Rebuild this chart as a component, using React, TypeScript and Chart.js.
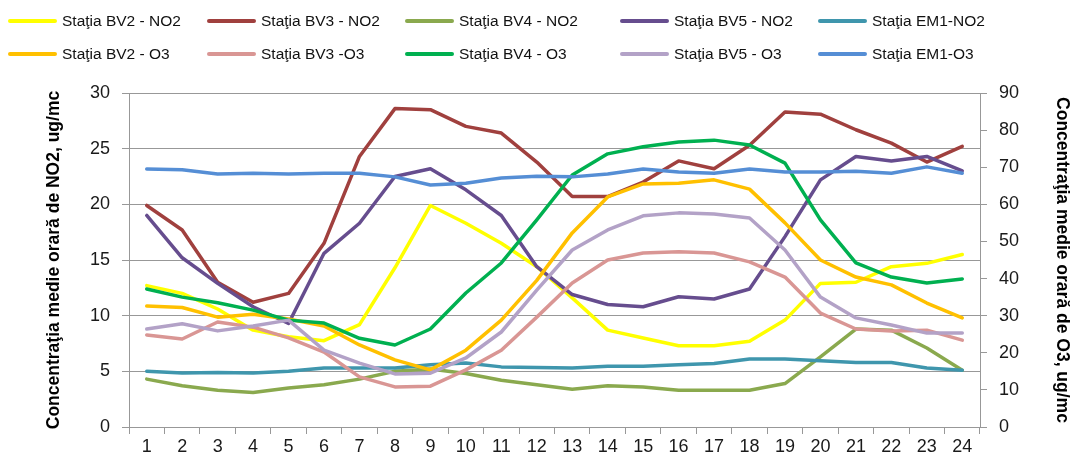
import React, { useEffect, useRef } from "react";
import { Chart, registerables } from "chart.js";

Chart.register(...registerables);

const hours = ["1","2","3","4","5","6","7","8","9","10","11","12","13","14","15","16","17","18","19","20","21","22","23","24"];

const bv2NO2 = [12.7, 12.0, 10.6, 8.7, 8.1, 7.75, 9.2, 14.3, 19.9, 18.3, 16.5, 14.4, 11.6, 8.7, 8.0, 7.3, 7.3, 7.7, 9.6, 12.9, 13.0, 14.4, 14.7, 15.5];
const bv3NO2 = [19.9, 17.7, 13.0, 11.2, 12.0, 16.5, 24.3, 28.6, 28.5, 27.0, 26.4, 23.8, 20.7, 20.7, 22.0, 23.9, 23.2, 25.3, 28.3, 28.1, 26.7, 25.5, 23.8, 25.2];
const bv4NO2 = [4.3, 3.7, 3.3, 3.1, 3.5, 3.8, 4.3, 5.0, 5.2, 4.8, 4.2, 3.8, 3.4, 3.7, 3.6, 3.3, 3.3, 3.3, 3.9, 6.3, 8.8, 8.7, 7.1, 5.1];
const bv5NO2 = [19.0, 15.2, 12.9, 10.8, 9.3, 15.6, 18.3, 22.5, 23.2, 21.3, 19.0, 14.4, 11.9, 11.0, 10.8, 11.7, 11.5, 12.4, 17.1, 22.2, 24.3, 23.9, 24.3, 23.0];
const em1NO2 = [5.0, 4.85, 4.9, 4.85, 5.0, 5.3, 5.3, 5.3, 5.6, 5.75, 5.4, 5.35, 5.3, 5.45, 5.45, 5.6, 5.7, 6.1, 6.1, 5.95, 5.8, 5.8, 5.3, 5.1];

const bv2O3 = [32.6, 32.2, 29.6, 30.4, 29.1, 27.2, 22.1, 18.1, 15.4, 20.7, 28.8, 39.5, 52.3, 62.0, 65.5, 65.7, 66.6, 64.1, 55.0, 45.0, 40.4, 38.3, 33.4, 29.4];
const bv3O3 = [24.8, 23.7, 28.3, 26.9, 24.0, 20.2, 13.5, 10.8, 11.0, 15.4, 20.7, 29.6, 38.8, 45.0, 46.9, 47.2, 46.9, 44.5, 40.4, 30.7, 26.4, 25.9, 26.1, 23.4];
const bv4O3 = [37.2, 35.0, 33.5, 31.5, 28.8, 28.0, 23.9, 22.1, 26.4, 36.1, 44.2, 55.8, 67.9, 73.6, 75.5, 76.8, 77.3, 76.0, 71.1, 55.8, 44.2, 40.4, 38.8, 39.9];
const bv5O3 = [26.4, 27.8, 25.9, 27.2, 28.8, 20.7, 17.2, 14.3, 14.5, 18.6, 25.6, 36.9, 47.7, 53.1, 56.9, 57.7, 57.4, 56.3, 47.7, 35.0, 29.4, 27.5, 25.3, 25.3];
const em1O3 = [69.5, 69.3, 68.2, 68.4, 68.2, 68.4, 68.4, 67.4, 65.2, 65.7, 67.1, 67.6, 67.4, 68.2, 69.5, 68.7, 68.4, 69.5, 68.7, 68.7, 68.9, 68.4, 70.1, 68.4];

const seriesNames = [
  "Staţia BV2 - NO2", "Staţia BV3 - NO2", "Staţia BV4 - NO2", "Staţia BV5 - NO2", "Staţia EM1-NO2",
  "Staţia BV2 - O3", "Staţia BV3 -O3", "Staţia BV4 - O3", "Staţia BV5 - O3", "Staţia EM1-O3",
];
const seriesData = [bv2NO2, bv3NO2, bv4NO2, bv5NO2, em1NO2, bv2O3, bv3O3, bv4O3, bv5O3, em1O3];
const seriesAxis = ["y", "y", "y", "y", "y", "y1", "y1", "y1", "y1", "y1"];
const seriesColors = [
  "#FFFF00", "#A0403E", "#8AA94E", "#664D8E", "#3F96AD",
  "#FFC000", "#D99694", "#00B050", "#B3A2C7", "#558ED5",
];

const leftTitle = "Concentraţia medie orară de NO2, ug/mc";
const rightTitle = "Concentraţia medie orară de O3, ug/mc";

const FONT = "'Liberation Sans', Arial, sans-serif";
const GRID = "#989898";
const legendCols = [8, 207, 405, 620, 818];
const legendRows = [21, 54];

export default function App() {
  const ref = useRef<HTMLCanvasElement | null>(null);
  useEffect(() => {
    document.body.style.margin = "0";
    const ctx = ref.current!;
    const chart = new Chart(ctx, {
      type: "line",
      data: {
        labels: hours,
        datasets: seriesData.map((d, i) => ({
          label: seriesNames[i],
          data: d,
          yAxisID: seriesAxis[i],
          borderColor: seriesColors[i],
          backgroundColor: seriesColors[i],
          borderWidth: 3.5,
          pointRadius: 0,
          tension: 0,
          fill: false,
          order: 10 - i,
          borderCapStyle: "round" as const,
          borderJoinStyle: "round" as const,
        })),
      },
      options: {
        animation: false,
        responsive: false,
        maintainAspectRatio: false,
        layout: { padding: { top: 93, left: 40, right: 0, bottom: 0 } },
        plugins: { legend: { display: false }, tooltip: { enabled: false }, title: { display: false } },
        scales: {
          x: {
            type: "category",
            offset: true,
            grid: { drawOnChartArea: false, offset: true, tickLength: 7, color: GRID },
            border: { display: true, color: GRID },
            ticks: { font: { family: FONT, size: 18 }, color: "#1a1a1a", padding: 2, maxRotation: 0, autoSkip: false },
            afterFit: (s: any) => { s.height = 29; },
          },
          y: {
            position: "left",
            min: 0,
            max: 30,
            ticks: { stepSize: 5, font: { family: FONT, size: 18 }, color: "#1a1a1a", padding: 12 },
            grid: { color: GRID, tickLength: 7 },
            border: { display: true, color: GRID },
            title: { display: true, text: leftTitle, font: { family: FONT, size: 17.5, weight: "bold" }, color: "#000", padding: { top: 4, bottom: 0 } },
            afterFit: (s: any) => { s.width = 89; },
          },
          y1: {
            position: "right",
            min: 0,
            max: 90,
            ticks: { stepSize: 10, font: { family: FONT, size: 18 }, color: "#1a1a1a", padding: 12 },
            grid: { drawOnChartArea: false, color: GRID, tickLength: 7 },
            border: { display: true, color: GRID },
            title: { display: true, text: rightTitle, font: { family: FONT, size: 17.5, weight: "bold" }, color: "#000", padding: { top: 0, bottom: 0 } },
            afterFit: (s: any) => { s.width = 92; },
          },
        },
      },
    });
    return () => chart.destroy();
  }, []);

  return (
    <div style={{ position: "relative", width: 1072, height: 456, background: "#fff", overflow: "hidden" }}>
      <canvas ref={ref} width={1072} height={456} style={{ display: "block", width: 1072, height: 456 }} />
      {seriesNames.map((name, i) => {
        const col = i % 5;
        const row = Math.floor(i / 5);
        return (
          <div key={name} style={{ position: "absolute", left: legendCols[col], top: legendRows[row] - 10, height: 20, display: "flex", alignItems: "center", fontFamily: FONT, fontSize: 15.5, color: "#111", whiteSpace: "nowrap" }}>
            <span style={{ display: "inline-block", width: 49, height: 4, borderRadius: 2, background: seriesColors[i], marginRight: 5 }} />
            <span>{name}</span>
          </div>
        );
      })}
    </div>
  );
}
